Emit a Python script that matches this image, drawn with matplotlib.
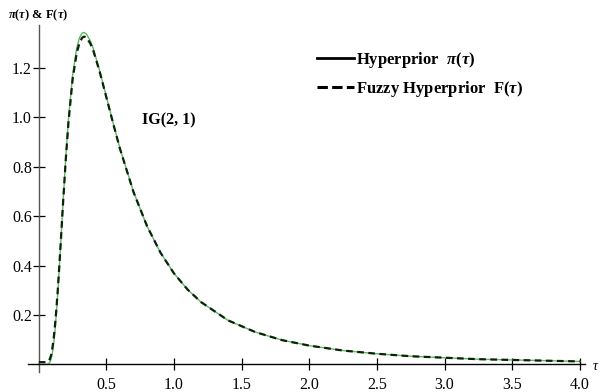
import matplotlib
matplotlib.use('Agg')
import matplotlib.pyplot as plt
from matplotlib.lines import Line2D

plt.rcParams['font.family'] = ['Liberation Serif', 'DejaVu Serif']
plt.rcParams['mathtext.fontset'] = 'custom'
plt.rcParams['mathtext.rm'] = 'Liberation Serif:bold'
plt.rcParams['mathtext.it'] = 'Liberation Serif:italic:bold'
plt.rcParams['mathtext.bf'] = 'Liberation Serif:bold'

# values
tau = [0.0, 0.05, 0.07, 0.08, 0.09, 0.10, 0.11, 0.12, 0.13, 0.14, 0.15, 0.16,
       0.18, 0.20, 0.22, 0.25, 0.28, 0.30, 0.32, 0.333, 0.35, 0.38, 0.40, 0.45,
       0.50, 0.55, 0.60, 0.70, 0.80, 0.90, 1.0, 1.1, 1.2, 1.4, 1.6, 1.8, 2.0,
       2.25, 2.5, 2.75, 3.0, 3.25, 3.5, 3.75, 4.0]
hyperprior = [0.0, 0.0, 0.002, 0.007, 0.020, 0.045, 0.085, 0.139, 0.208, 0.288,
              0.377, 0.471, 0.663, 0.842, 0.997, 1.172, 1.280, 1.321, 1.341,
              1.344, 1.339, 1.311, 1.283, 1.189, 1.083, 0.976, 0.875, 0.699,
              0.560, 0.452, 0.368, 0.303, 0.252, 0.178, 0.131, 0.098, 0.076,
              0.056, 0.043, 0.033, 0.027, 0.021, 0.018, 0.015, 0.012]
fuzzy = [0.009, 0.009, 0.012, 0.020, 0.035, 0.065, 0.105, 0.160, 0.225, 0.300,
         0.385, 0.475, 0.660, 0.835, 0.985, 1.155, 1.260, 1.300, 1.322, 1.327,
         1.325, 1.300, 1.275, 1.185, 1.080, 0.975, 0.873, 0.698, 0.560, 0.452,
         0.368, 0.303, 0.252, 0.178, 0.131, 0.098, 0.076, 0.056, 0.043, 0.033,
         0.027, 0.021, 0.018, 0.015, 0.012]
xticks = [0.5, 1.0, 1.5, 2.0, 2.5, 3.0, 3.5, 4.0]
yticks = [0.2, 0.4, 0.6, 0.8, 1.0, 1.2]

fig = plt.figure(figsize=(6.03, 3.92), dpi=100)
ax = fig.add_axes([28 / 603, 1 - 371.8 / 392, (584.5 - 28) / 603, (371.8 - 25) / 392])

ax.plot(tau, hyperprior, color='#5cb85c', lw=1.0, zorder=2)
ax.plot(tau, fuzzy, color='#0d200d', lw=1.6, dashes=(3.0, 2.0), zorder=3)

ax.set_xlim(-0.08, 4.035)
ax.set_ylim(-0.03, 1.374)
ax.spines['left'].set_position(('data', 0))
ax.spines['bottom'].set_position(('data', 0))
ax.spines['top'].set_visible(False)
ax.spines['right'].set_visible(False)
ax.spines['left'].set_color('#555555')
ax.spines['left'].set_linewidth(1.0)
ax.spines['bottom'].set_linewidth(1.0)

ax.set_xticks(xticks)
ax.set_xticklabels([f'{v:.1f}' for v in xticks])
ax.set_yticks(yticks)
ax.set_yticklabels([f'{v:.1f}' for v in yticks])
ax.tick_params(direction='inout', length=8, width=0.9, labelsize=11.5)
ax.tick_params(axis='x', pad=5)
ax.tick_params(axis='y', pad=1)

ax.text(8 / 603, 1 - 15 / 392, r'$\pi(\tau)$ & F($\tau$)', transform=fig.transFigure,
        fontsize=9, fontweight='bold', ha='left', va='center')
ax.text(593 / 603, 1 - 366 / 392, 'τ', transform=fig.transFigure, fontsize=10,
        style='italic', ha='left', va='center')
ax.text(142 / 603, 1 - 120 / 392, 'IG(2, 1)', transform=fig.transFigure,
        fontsize=11.5, fontweight='bold', ha='left', va='center')

handles = [Line2D([], [], color='black', lw=2.0),
           Line2D([], [], color='black', lw=2.2, dashes=(3.4, 1.4))]
labels = [r'Hyperprior  $\pi(\tau)$', r'Fuzzy Hyperprior  F($\tau$)']
leg = ax.legend(handles, labels, loc='upper left', frameon=False,
                bbox_to_anchor=(317 / 603, 1 - 50 / 392), bbox_transform=fig.transFigure,
                borderpad=0, borderaxespad=0, handlelength=2.2, handletextpad=0.15,
                labelspacing=0.55, prop={'size': 12, 'weight': 'bold'})

fig.savefig('out.png', dpi=100)
